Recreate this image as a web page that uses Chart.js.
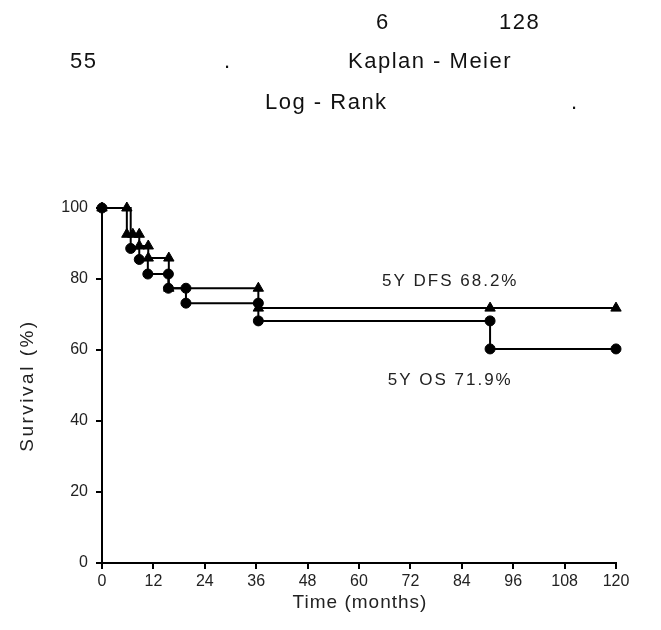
<!DOCTYPE html>
<html>
<head>
<meta charset="utf-8">
<script src="https://cdn.jsdelivr.net/npm/chart.js@4"></script>
<style>
  body { margin: 0; background: #fff; }
  #wrap { position: relative; width: 661px; height: 630px; }
  #chart { position: absolute; left: 0; top: 0; }
  .t { position: absolute; font: 22px "Liberation Sans", Arial, sans-serif; line-height: 22px;
       color: #111; letter-spacing: 1.5px; white-space: pre; }
</style>
</head>
<body>
<div id="wrap">
  <canvas id="chart" width="661" height="630"></canvas>
  <span class="t" style="left:376px; top:11px">6</span>
  <span class="t" style="left:499px; top:11px">128</span>
  <span class="t" style="left:70px; top:50px">55</span>
  <span class="t" style="left:224px; top:50px">.</span>
  <span class="t" style="left:348px; top:50px">Kaplan - Meier</span>
  <span class="t" style="left:265px; top:91px">Log - Rank</span>
  <span class="t" style="left:571px; top:91px">.</span>
</div>
<script>
// step curves (months, survival %)
var dfsTimes = [0, 5.8, 8.7, 10.8, 15.6, 36.5, 120];
var dfsValues = [100, 92.6, 89.3, 85.9, 77.4, 71.8, 71.8];
var osTimes = [0, 6.7, 8.7, 10.7, 15.5, 19.6, 36.5, 90.6, 120];
var osValues = [100, 88.6, 85.5, 81.4, 77.4, 73.2, 68.2, 60.3, 60.3];

// marker positions on the curves
var dfsMarkTimes = [0, 5.8, 5.8, 7.2, 8.7, 8.7, 10.8, 10.8, 15.6, 15.6, 36.5, 36.5, 90.6, 120];
var dfsMarkValues = [100, 100, 92.6, 92.6, 92.6, 89.3, 89.3, 85.9, 85.9, 77.4, 77.4, 71.8, 71.8, 71.8];
var osMarkTimes = [0, 6.7, 8.7, 10.7, 15.5, 15.5, 19.6, 19.6, 36.5, 36.5, 90.6, 90.6, 120];
var osMarkValues = [100, 88.6, 85.5, 81.4, 81.4, 77.4, 77.4, 73.2, 73.2, 68.2, 68.2, 60.3, 60.3];

var xTicks = [0, 12, 24, 36, 48, 60, 72, 84, 96, 108, 120];
var yTicks = [0, 20, 40, 60, 80, 100];

var xTitle = 'Time (months)';
var yTitle = 'Survival (%)';
var dfsLabel = '5Y DFS 68.2%';
var osLabel = '5Y OS 71.9%';

function toPoints(xs, ys) {
    return xs.map(function (x, i) { return { x: x, y: ys[i] }; });
}

var fontFamily = '"Liberation Sans", Arial, sans-serif';

// curve labels and axis titles (drawn here so the letters can be spaced like the original)
var labelPlugin = {
    id: 'curveLabels',
    afterDatasetsDraw: function (chart) {
        var ctx = chart.ctx;
        var xs = chart.scales.x, ys = chart.scales.y;
        var area = chart.chartArea;
        ctx.save();
        ctx.fillStyle = '#222';
        ctx.textAlign = 'center';
        ctx.textBaseline = 'middle';

        ctx.font = '17px ' + fontFamily;
        ctx.letterSpacing = '2px';
        ctx.fillText(dfsLabel, xs.getPixelForValue(81.3), ys.getPixelForValue(79.3));
        ctx.fillText(osLabel, xs.getPixelForValue(81.3), ys.getPixelForValue(51.5));

        ctx.font = '19px ' + fontFamily;
        ctx.letterSpacing = '1px';
        ctx.fillText(xTitle, (area.left + area.right) / 2 + 1, area.bottom + 40);

        ctx.letterSpacing = '2.5px';
        ctx.translate(area.left - 74, (area.top + area.bottom) / 2);
        ctx.rotate(-Math.PI / 2);
        ctx.fillText(yTitle, 0, 0);
        ctx.restore();
    }
};

var ctx = document.getElementById('chart').getContext('2d');
var chart = new Chart(ctx, {
    type: 'scatter',
    data: {
        datasets: [{
            type: 'line',
            data: toPoints(dfsTimes, dfsValues),
            stepped: 'before',
            borderColor: '#000',
            borderWidth: 2,
            pointRadius: 0,
            fill: false,
            clip: false
        }, {
            type: 'line',
            data: toPoints(osTimes, osValues),
            stepped: 'before',
            borderColor: '#000',
            borderWidth: 2,
            pointRadius: 0,
            fill: false,
            clip: false
        }, {
            data: toPoints(osMarkTimes, osMarkValues),
            pointStyle: 'circle',
            pointRadius: 5,
            backgroundColor: '#000',
            borderColor: '#000',
            borderWidth: 1,
            clip: false
        }, {
            data: toPoints(dfsMarkTimes, dfsMarkValues),
            pointStyle: 'triangle',
            pointRadius: 6,
            backgroundColor: '#000',
            borderColor: '#000',
            borderWidth: 1,
            clip: false
        }]
    },
    options: {
        responsive: false,
        animation: false,
        events: [],
        layout: { padding: { left: 0, top: 208, right: 45, bottom: 0 } },
        plugins: { legend: { display: false }, tooltip: { enabled: false } },
        scales: {
            x: {
                type: 'linear',
                min: 0,
                max: 120,
                afterBuildTicks: function (axis) {
                    axis.ticks = xTicks.map(function (v) { return { value: v }; });
                },
                afterFit: function (axis) { axis.height = 67; },
                ticks: { font: { size: 16, family: fontFamily }, color: '#222', padding: 3, maxRotation: 0 },
                grid: { drawOnChartArea: false, tickLength: 6, color: '#000', lineWidth: 2 },
                border: { color: '#000', width: 2 }
            },
            y: {
                min: 0,
                max: 100,
                afterBuildTicks: function (axis) {
                    axis.ticks = yTicks.map(function (v) { return { value: v }; });
                },
                afterFit: function (axis) { axis.width = 102; },
                ticks: { font: { size: 16, family: fontFamily }, color: '#222', padding: 8 },
                grid: { drawOnChartArea: false, tickLength: 6, color: '#000', lineWidth: 2 },
                border: { color: '#000', width: 2 }
            }
        }
    },
    plugins: [labelPlugin]
});
</script>
</body>
</html>
